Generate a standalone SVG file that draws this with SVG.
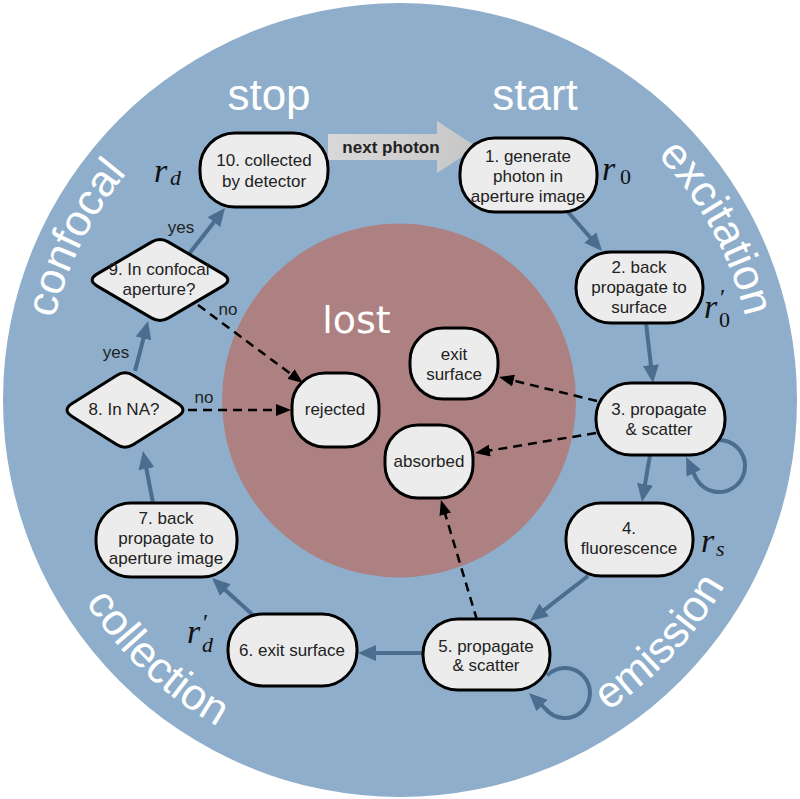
<svg xmlns="http://www.w3.org/2000/svg" width="800" height="799" viewBox="0 0 800 799">
<style>
.node{fill:#ececec;stroke:#000;stroke-width:3}
.nt{font-family:"Liberation Sans",Arial,sans-serif;font-size:17px;fill:#222;text-anchor:middle}
.big{font-family:"Liberation Sans",Arial,sans-serif;font-size:44px;fill:#fff}
.solid{fill:none;stroke:#4b6e90;stroke-width:4}
.dash{fill:none;stroke:#000;stroke-width:2.5;stroke-dasharray:9 6}
.lbl{font-family:"Liberation Sans",Arial,sans-serif;font-size:17px;fill:#222;text-anchor:middle}
.m{font-family:"Liberation Serif","DejaVu Serif",serif;fill:#111;font-style:italic;font-size:34px}
.ms{font-size:22px}
.up{font-style:normal}
.pr{font-size:24px;font-style:normal}
</style>
<defs>
<marker id="ah" viewBox="0 0 18 16" refX="12" refY="8" markerWidth="18" markerHeight="16" orient="auto" markerUnits="userSpaceOnUse"><path d="M0,0 L18,8 L0,16 Z" fill="#4b6e90"/></marker>
<marker id="dh" viewBox="0 0 15 12" refX="11" refY="6" markerWidth="15" markerHeight="12" orient="auto" markerUnits="userSpaceOnUse"><path d="M0,0 L15,6 L0,12 Z" fill="#000"/></marker>
<linearGradient id="ng" x1="0" y1="0" x2="1" y2="0"><stop offset="0" stop-color="#d8d8d8"/><stop offset="1" stop-color="#c6c6c6"/></linearGradient>
<path id="arcExc" d="M577.5,92.6 A355,355 0 0 1 754.5,418.6"/>
<path id="arcConf" d="M46.4,430.9 A355,355 0 0 1 211.9,98.9"/>
<path id="arcEm" d="M499.9,760.4 A374,374 0 0 0 766.5,474.6"/>
<path id="arcCol" d="M39.2,498.7 A374,374 0 0 0 324.2,766.2"/>
</defs>
<rect width="800" height="799" fill="#fff"/>
<circle cx="400" cy="400" r="397" fill="#8eaecb"/>
<circle cx="399" cy="400.5" r="177" fill="#ad8181"/>

<g id="phase-labels">
<text class="big" x="269" y="110" text-anchor="middle">stop</text>
<text class="big" x="535" y="110" text-anchor="middle">start</text>
<text class="big" text-anchor="middle"><textPath href="#arcExc" startOffset="50%">excitation</textPath></text>
<text class="big" text-anchor="middle"><textPath href="#arcConf" startOffset="50%">confocal</textPath></text>
<text class="big" text-anchor="middle"><textPath href="#arcEm" startOffset="50%">emission</textPath></text>
<text class="big" text-anchor="middle"><textPath href="#arcCol" startOffset="50%">collection</textPath></text>
<text x="356.5" y="333" font-family="'DejaVu Sans',sans-serif" font-size="38" fill="#fff" text-anchor="middle">lost</text>
</g>

<g id="next-photon">
<polygon points="328,134 437,134 437,121 477,147 437,173 437,160 328,160" fill="url(#ng)"/>
<text x="391" y="153" font-family="'Liberation Sans',Arial,sans-serif" font-size="17" font-weight="bold" fill="#222" text-anchor="middle">next photon</text>
</g>

<g id="connectors">
<path class="solid" d="M568,212 L598.1,246.5" marker-end="url(#ah)"/>
<path class="solid" d="M646,323 L652.3,377" marker-end="url(#ah)"/>
<path class="solid" d="M650,455 L643,496.1" marker-end="url(#ah)"/>
<path class="solid" d="M588,576 L534.7,617.3" marker-end="url(#ah)"/>
<path class="solid" d="M423,653 L364,653" marker-end="url(#ah)"/>
<path class="solid" d="M254,616 L216.5,582" marker-end="url(#ah)"/>
<path class="solid" d="M153,503 L144.1,456.9" marker-end="url(#ah)"/>
<path class="solid" d="M135,371 L146.5,326.8" marker-end="url(#ah)"/>
<path class="solid" d="M189,254 L221.3,212.7" marker-end="url(#ah)"/>
<path class="solid" d="M704.1,444.7 A26,26 0 1 1 696.5,479 L688.6,462.4" marker-end="url(#ah)"/>
<path class="solid" d="M547.3,675.3 A25,25 0 1 1 545.8,709.1 L533.3,697.2" marker-end="url(#ah)"/>
<path class="dash" d="M198,305 L299.8,380.6" marker-end="url(#dh)"/>
<path class="dash" d="M188,410 L287,410" marker-end="url(#dh)"/>
<path class="dash" d="M597,401 L502.9,378" marker-end="url(#dh)"/>
<path class="dash" d="M596,433 L479,452.3" marker-end="url(#dh)"/>
<path class="dash" d="M477,620 L442.1,503.8" marker-end="url(#dh)"/>
<text class="lbl" x="181" y="233">yes</text>
<text class="lbl" x="116" y="358">yes</text>
<text class="lbl" x="228" y="315">no</text>
<text class="lbl" x="204" y="403">no</text>
</g>

<g id="n1"><rect class="node" x="460" y="138" width="137" height="74" rx="35"/>
<text class="nt" x="528" y="162">1. generate</text><text class="nt" x="528" y="182">photon in</text><text class="nt" x="528" y="202">aperture image</text></g>
<g id="n2"><rect class="node" x="576" y="252" width="127" height="71" rx="35"/>
<text class="nt" x="639" y="273">2. back</text><text class="nt" x="639" y="293">propagate to</text><text class="nt" x="639" y="313">surface</text></g>
<g id="n3"><rect class="node" x="596" y="383" width="129" height="72" rx="35"/>
<text class="nt" x="659" y="415">3. propagate</text><text class="nt" x="659" y="435">&amp; scatter</text></g>
<g id="n4"><rect class="node" x="566" y="503" width="127" height="73" rx="35"/>
<text class="nt" x="629" y="534">4.</text><text class="nt" x="629" y="554">fluorescence</text></g>
<g id="n5"><rect class="node" x="423" y="619" width="127" height="71" rx="35"/>
<text class="nt" x="486" y="652">5. propagate</text><text class="nt" x="486" y="671">&amp; scatter</text></g>
<g id="n6"><rect class="node" x="228" y="614" width="129" height="72" rx="35"/>
<text class="nt" x="292" y="656">6. exit surface</text></g>
<g id="n7"><rect class="node" x="96" y="503" width="141" height="74" rx="35"/>
<text class="nt" x="166" y="524">7. back</text><text class="nt" x="166" y="544">propagate to</text><text class="nt" x="166" y="564">aperture image</text></g>
<g id="n8"><path class="node" d="M72.1,403.6 L116.6,375.4 Q125,370 133.4,375.4 L177.9,403.6 Q188,410 177.9,416.4 L133.4,444.6 Q125,450 116.6,444.6 L72.1,416.4 Q62,410 72.1,403.6 Z"/>
<text class="nt" x="124" y="415">8. In NA?</text></g>
<g id="n9"><path class="node" d="M97.3,273.9 L151.4,242.1 Q160,237 168.6,242.1 L222.7,273.9 Q233,280 222.7,286.1 L168.6,317.9 Q160,323 151.4,317.9 L97.3,286.1 Q87,280 97.3,273.9 Z"/>
<text class="nt" x="159" y="275">9. In confocal</text><text class="nt" x="159" y="295">aperture?</text></g>
<g id="n10"><rect class="node" x="200" y="133" width="128" height="74" rx="35"/>
<text class="nt" x="264" y="166">10. collected</text><text class="nt" x="264" y="187">by detector</text></g>
<g id="exit"><rect class="node" x="410" y="328" width="88" height="71" rx="33"/>
<text class="nt" x="454" y="360">exit</text><text class="nt" x="454" y="380">surface</text></g>
<g id="rejected"><rect class="node" x="292" y="373" width="87" height="74" rx="33"/>
<text class="nt" x="335" y="415">rejected</text></g>
<g id="absorbed"><rect class="node" x="385" y="425" width="88" height="73" rx="33"/>
<text class="nt" x="429" y="467">absorbed</text></g>

<g id="math-labels">
<text class="m" x="602" y="180">r<tspan class="ms up" x="620" y="184">0</tspan></text>
<text class="m" x="704" y="318">r<tspan class="pr" x="720" y="305">′</tspan><tspan class="ms up" x="719" y="327">0</tspan></text>
<text class="m" x="701" y="552">r<tspan class="ms" x="716" y="556">s</tspan></text>
<text class="m" x="154" y="182">r<tspan class="ms" x="170" y="185">d</tspan></text>
<text class="m" x="187" y="643">r<tspan class="pr" x="203" y="630">′</tspan><tspan class="ms" x="202" y="652">d</tspan></text>
</g>
</svg>
